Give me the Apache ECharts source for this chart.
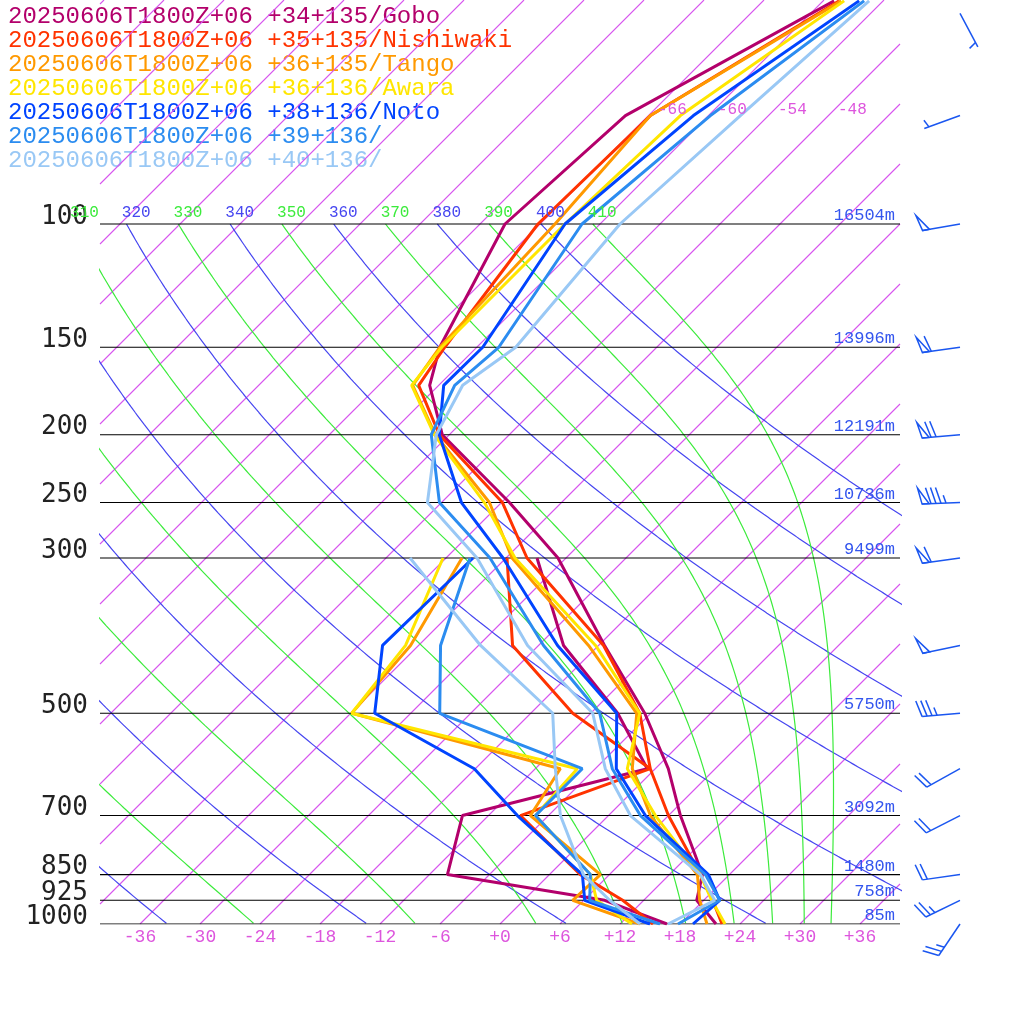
<!DOCTYPE html>
<html><head><meta charset="utf-8">
<script src="https://cdn.jsdelivr.net/npm/echarts@6/dist/echarts.min.js"></script>
<style>html,body{margin:0;padding:0;background:#fff}#c{width:1024px;height:1024px}</style>
</head><body><div id="c"></div>
<script>
// ---- data ----
const levels = [1000,925,850,700,600,500,400,300,250,200,170,150,100,70,48];
const tdLevels = [1000,925,850,700,600,500,400,300];
const names = ["20250606T1800Z+06 +34+135/Gobo","20250606T1800Z+06 +35+135/Nishiwaki","20250606T1800Z+06 +36+135/Tango","20250606T1800Z+06 +36+136/Awara","20250606T1800Z+06 +38+136/Noto","20250606T1800Z+06 +39+136/","20250606T1800Z+06 +40+136/"];
const colors = ["rgb(179,0,107)","rgb(255,51,0)","rgb(255,153,0)","rgb(255,230,0)","rgb(0,68,255)","rgb(43,140,240)","rgb(153,200,245)"];
const tGobo     = [21.6,17.3,15.3,7.2,1.3,-6.6,-17.4,-30.8,-41.2,-54.7,-60.9,-63.7,-69.5,-68.3,-58.9];
const tNishiwaki= [22.2,18.9,15.1,6.0,-0.5,-7.1,-17.5,-33.9,-41.9,-55.0,-62.0,-63.2,-66.2,-65.8,-58.4];
const tTango    = [20.7,17.6,14.8,4.2,-2.3,-7.4,-19.0,-35.4,-43.2,-55.4,-62.6,-63.7,-64.5,-65.8,-58.2];
const tAwara    = [22.5,18.8,15.1,4.7,-2.8,-7.1,-18.3,-35.1,-43.7,-55.5,-62.7,-63.5,-63.5,-62.8,-57.9];
const tNoto     = [19.3,19.6,15.9,3.7,-3.9,-9.4,-22.1,-36.3,-46.0,-55.0,-59.5,-59.4,-63.5,-61.5,-56.4];
const t39       = [17.8,19.6,15.6,3.2,-4.3,-11.1,-23.5,-37.6,-48.2,-55.8,-58.4,-57.8,-61.8,-59.8,-55.9];
const t40       = [16.8,19.1,15.1,2.2,-5.0,-11.8,-25.1,-38.9,-49.4,-55.3,-57.6,-56.1,-58.0,-56.8,-55.4];
const tdGobo     = [16.7,8.1,-10.2,-14.6,-0.8,-9.3,-21.5,-32.9];
const tdNishiwaki= [15.3,9.9,3.1,-8.8,-0.5,-13.8,-26.6,-35.9];
const tdTango    = [14.0,4.9,5.1,-7.8,-9.5,-35.9,-36.8,-40.4];
const tdAwara    = [13.2,7.3,4.1,-7.3,-7.8,-35.9,-37.3,-42.3];
const tdNoto     = [15.0,6.1,3.3,-9.1,-18.1,-33.6,-39.6,-39.3];
const td39       = [16.0,6.6,4.1,-7.3,-7.3,-27.1,-33.8,-39.6];
const td40       = [14.0,8.6,3.4,-4.8,-10.0,-15.8,-29.8,-45.6];
const heightLevels = [100,150,200,250,300,500,700,850,925,1000];
const heightLabels = ["16504m","13996m","12191m","10736m","9499m","5750m","3092m","1480m","758m","85m"];
const pLabels = ["100","150","200","250","300","500","700","850","925","1000"];
const tempTicks = [-36,-30,-24,-18,-12,-6,0,6,12,18,24,30,36];
const isoLabelT = [-66,-60,-54,-48];
const thetaLabels = [310,320,330,340,350,360,370,380,390,400,410];
const windP   = [50,70,100,150,200,250,300,400,500,600,700,850,925,1000];
const windDir = [152,250,260,262,265,268,262,258,265,241,243,262,244,214];
const windSpd = [5,5,50,60,70,85,60,50,35,20,20,20,25,25];

const tSeries = [tGobo,tNishiwaki,tTango,tAwara,tNoto,t39,t40];
const tdSeries = [tdGobo,tdNishiwaki,tdTango,tdAwara,tdNoto,td39,td40];

// ---- geometry ----
const LN10 = Math.log(10);
const S = 70/LN10;
const HMAX = 924/700*LN10;
const hOf = p => Math.log(1000/p);
const xy = (T,p) => [T + S*hOf(p), hOf(p)];

const series = [];
const lineS = (data,color,width,z) => ({type:'line',data,showSymbol:false,silent:true,animation:false,clip:true,
  color:color,itemStyle:{color},lineStyle:{color,width},z:z||2});

// isotherms
const ISO = 'rgb(215,85,238)';
for (let T=-132; T<=36; T+=6) {
  const h0=Math.max(0,(-40-T)/S), h1=Math.min(HMAX,(40-T)/S);
  if (h1>h0) series.push(lineS([[T+S*h0,h0],[T+S*h1,h1]],ISO,1.1,1));
}
// dry (blue) and moist (green) adiabats
const Rd=287, cp=1005, Lv=2.5e6, eps=0.622;
const BLUE='rgb(70,70,240)', GREEN='rgb(60,235,60)';
for (let th=200; th<=410; th+=10) {
  const T100 = th*Math.pow(0.1,Rd/cp);
  const blue = (th/10)%2===0;
  const pts=[];
  let T=T100;
  const step=0.005;
  for (let lp=Math.log(100); lp<=Math.log(1000)+1e-9; lp+=step) {
    const p=Math.exp(lp);
    pts.push(xy(T-273.15,p));
    let dT;
    if (blue) dT = Rd*T/cp;
    else {
      const Tc=T-273.15, es=6.112*Math.exp(17.67*Tc/(Tc+243.5)), rs=eps*es/(p-es);
      dT = (Rd*T+Lv*rs)/(cp+Lv*Lv*rs*eps/(Rd*T*T));
    }
    T += dT*step;
  }
  series.push(lineS(pts, blue?BLUE:GREEN,1.2,1));
}
// pressure lines
heightLevels.forEach(p=>series.push(lineS([[-40,hOf(p)],[40,hOf(p)]],'rgb(0,0,0)',1.1,3)));
// soundings
tSeries.forEach((arr,i)=>series.push(lineS(arr.map((T,k)=>xy(T,levels[k])),colors[i],3,5+i)));
tdSeries.forEach((arr,i)=>series.push(lineS(arr.map((T,k)=>xy(T,tdLevels[k])),colors[i],3,5+i)));

function textSeries(items){
  return {type:'custom',coordinateSystem:'cartesian2d',animation:false,silent:true,clip:false,z:20,
    data:items.map((it,i)=>[it.v[0],it.v[1],i]),
    renderItem:(params,api)=>{
      const it=items[api.value(2)];
      const c=api.coord([api.value(0),api.value(1)]);
      return {type:'text',x:c[0]+(it.dx||0),y:c[1]+(it.dy||0),
        style:{text:it.t,fill:it.c,font:it.f,align:it.a||'center',verticalAlign:it.va||'middle',
               textAlign:it.a||'center',textVerticalAlign:it.va||'middle'}};
    }};
}
const texts=[];
pLabels.forEach((s,i)=>texts.push({v:[-40,hOf(heightLevels[i])],t:s,c:'#222',f:'26px "DejaVu Sans Mono"',a:'right',va:'middle',dx:-12,dy:-7}));
heightLabels.forEach((s,i)=>texts.push({v:[39.5,hOf(heightLevels[i])],t:s,c:'#3355ee',f:'17px "Liberation Mono"',a:'right',va:'bottom',dy:0}));
tempTicks.forEach(T=>texts.push({v:[T,0],t:(T>=0?'+':'')+T,c:'#dd55dd',f:'18px "Liberation Mono"',a:'center',va:'top',dy:4}));
isoLabelT.forEach(T=>texts.push({v:xy(T,1000*Math.exp(-814/700*LN10)),t:String(T),c:'#dd55dd',f:'16px "Liberation Mono"',a:'left',va:'middle',dx:4}));
thetaLabels.forEach(th=>texts.push({v:xy(th*Math.pow(0.1,0.286)-273.15,100),t:String(th),c:(th/10)%2===0?BLUE:GREEN,f:'16px "Liberation Mono"',a:'left',va:'bottom',dx:-3,dy:-3}));
series.push(textSeries(texts));

// wind barbs
series.push({type:'custom',coordinateSystem:'cartesian2d',animation:false,silent:true,clip:false,z:20,
  data:windP.map((p,i)=>[46,hOf(p),windDir[i],windSpd[i]]),
  renderItem:(params,api)=>{
    const A=api.coord([api.value(0),api.value(1)]);
    const r=api.value(2)*Math.PI/180, spd=api.value(3);
    const d=[Math.sin(r),-Math.cos(r)], n=[-d[1],d[0]];
    const L=38, E=[A[0]+L*d[0],A[1]+L*d[1]];
    const st={stroke:'rgb(26,86,240)',lineWidth:1.5,fill:null};
    const ch=[{type:'line',shape:{x1:A[0],y1:A[1],x2:E[0],y2:E[1]},style:st}];
    let s=spd, off=0;
    const at=o=>[E[0]-o*d[0],E[1]-o*d[1]];
    while(s>=50){const P=at(off),Q=at(off+7);
      ch.push({type:'polygon',shape:{points:[P,[P[0]+16*n[0]+4*d[0],P[1]+16*n[1]+4*d[1]],Q]},style:{fill:'none',stroke:'rgb(26,86,240)',lineWidth:1.5}});
      off+=9;s-=50;}
    if(spd<10 && s>=5) off+=5;
    while(s>=10){const P=at(off);
      ch.push({type:'line',shape:{x1:P[0],y1:P[1],x2:P[0]+16*n[0]+5*d[0],y2:P[1]+16*n[1]+5*d[1]},style:st});off+=5;s-=10;}
    if(s>=5){const P=at(off);
      ch.push({type:'line',shape:{x1:P[0],y1:P[1],x2:P[0]+8*n[0]+2.5*d[0],y2:P[1]+8*n[1]+2.5*d[1]},style:st});}
    return {type:'group',children:ch};
  }});

const graphic = names.map((s,i)=>({type:'text',left:8,top:5+i*24,style:{text:s,fill:colors[i],font:'24px "Liberation Mono"'}}));

const chart=echarts.init(document.getElementById('c'),null,{renderer:'canvas'});
chart.setOption({
  animation:false,
  grid:{left:100,right:124,top:0,bottom:100},
  xAxis:{type:'value',min:-40,max:40,show:false},
  yAxis:{type:'value',min:0,max:HMAX,show:false},
  graphic, series
});
</script></body></html>
